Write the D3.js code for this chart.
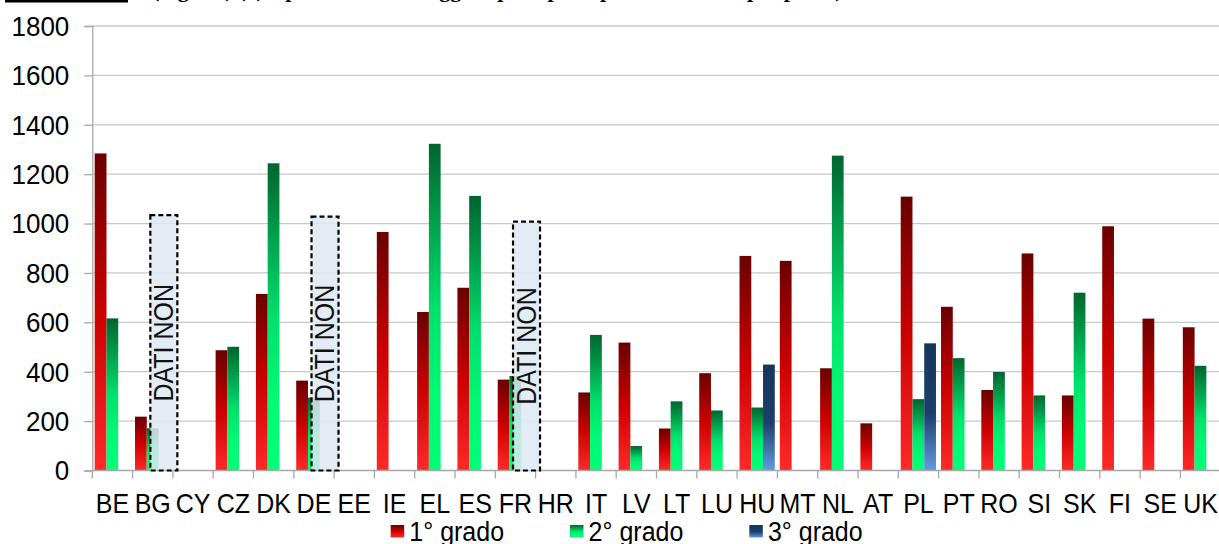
<!DOCTYPE html>
<html>
<head>
<meta charset="utf-8">
<script src="https://cdn.jsdelivr.net/npm/d3@7"></script>
<style>
  html, body { margin: 0; padding: 0; background: #fff; }
  svg { display: block; }
  text { font-family: "Liberation Sans", Arial, sans-serif; }
</style>
</head>
<body>
<svg id="chart" width="1219" height="544"></svg>
<script>
// ---- data ----
const categories = ["BE","BG","CY","CZ","DK","DE","EE","IE","EL","ES","FR","HR","IT","LV","LT","LU","HU","MT","NL","AT","PL","PT","RO","SI","SK","FI","SE","UK"];
const grado1 = [1284,218,null,487,715,364,null,966,642,740,368,null,316,518,170,394,869,849,414,191,1109,663,326,879,304,989,615,580];
const grado2 = [616,171,null,501,1244,295,null,null,1323,1112,383,null,549,99,280,243,255,null,1275,null,289,455,399,304,720,null,null,424];
const grado3 = [null,null,null,null,null,null,null,null,null,null,null,null,null,null,null,null,429,null,null,null,515,null,null,null,null,null,null,null];
const seriesNames = ["1° grado","2° grado","3° grado"];
const yTicks = [0,200,400,600,800,1000,1200,1400,1600,1800];
const noDataCats = ["BG","DE","FR"];
const noDataTop = [1034,1028,1008];
const noDataLabel = "DATI NON";

// ---- setup ----
const svg = d3.select("#chart");
const W = 1219, H = 544;
const x0 = 92.3, x1 = 1220.7, yBase = 470.5, yTop = 26;
const vs = 1.07; // slight vertical stretch of the text, as in the reference

const x = d3.scaleBand().domain(categories).range([x0, x1]).padding(0);
const bw = x.bandwidth();
const xs = d3.scaleBand().domain([0,1,2]).range([bw*0.06, bw*0.935]).padding(0);
const y = d3.scaleLinear().domain([0, 1800]).range([yBase, yTop]);

// gradients
const defs = svg.append("defs");
const grads = [
  {id:"gRed",   stops:[[0,"#6a0000"],[0.5,"#cc0000"],[1,"#ff2a2a"]]},
  {id:"gGreen", stops:[[0,"#00652f"],[0.5,"#00e06c"],[0.75,"#00f874"],[1,"#00ff7a"]]},
  {id:"gBlue",  stops:[[0,"#16355c"],[0.55,"#1c3f6c"],[1,"#639ae2"]]}
];
grads.forEach(g => {
  const lg = defs.append("linearGradient").attr("id", g.id)
    .attr("x1",0).attr("y1",0).attr("x2",0).attr("y2",1);
  g.stops.forEach(s => lg.append("stop").attr("offset", s[0]).attr("stop-color", s[1]));
});
const fills = ["url(#gRed)","url(#gGreen)","url(#gBlue)"];

// header remnant (cut off at top of the picture)
svg.append("rect").attr("x",5).attr("y",0).attr("width",123).attr("height",2.5).attr("fill","#000");
svg.append("text").attr("x",152).attr("y",-3)
  .style("font-family","'Liberation Serif', 'Times New Roman', serif")
  .style("font-weight","bold").style("font-size","22px").attr("fill","#000")
  .text("(seguito) (a) ripartizione dei soggetti per tipo di provvedimento per paese)");

// gridlines
svg.append("g").selectAll("line").data(yTicks.filter(d => d > 0)).join("line")
  .attr("x1", x0).attr("x2", W).attr("y1", d => y(d)).attr("y2", d => y(d))
  .attr("stroke","#c8c8c8").attr("stroke-width",1.3);

// y axis
const yAxis = d3.axisLeft(y).tickValues(yTicks).tickSize(8).tickPadding(15).tickFormat(d3.format("d"));
const gy = svg.append("g").attr("transform",`translate(${x0},0)`).call(yAxis);
gy.select(".domain").attr("stroke","#a8a8a8").attr("stroke-width",1.3);
gy.selectAll(".tick line").attr("stroke","#a8a8a8").attr("stroke-width",1.3);
gy.selectAll(".tick text")
  .style("font-size","26px").style("font-family","'Liberation Sans', Arial, sans-serif").attr("fill","#000")
  .attr("dy", null).attr("dominant-baseline","central")
  .attr("y", 0)
  .attr("transform", `scale(1,${vs})`);

// bars
const allSeries = [grado1, grado2, grado3];
allSeries.forEach((vals, si) => {
  const data = categories.map((c, i) => ({c, v: vals[i]})).filter(d => d.v != null);
  svg.append("g").selectAll("rect").data(data).join("rect")
    .attr("x", d => x(d.c) + xs(si))
    .attr("width", xs.bandwidth())
    .attr("y", d => y(d.v))
    .attr("height", d => y(0) - y(d.v))
    .attr("fill", fills[si]);
});

// x axis
svg.append("line").attr("x1", x0).attr("x2", W).attr("y1", yBase).attr("y2", yBase)
  .attr("stroke","#a8a8a8").attr("stroke-width",1.3);
svg.append("g").selectAll("line").data(categories).join("line")
  .attr("x1", d => x(d)).attr("x2", d => x(d))
  .attr("y1", yBase).attr("y2", yBase + 8)
  .attr("stroke","#a8a8a8").attr("stroke-width",1.3);
svg.append("g").selectAll("text").data(categories).join("text")
  .attr("transform", d => `translate(${x(d) + bw/2},513) scale(1,${vs})`)
  .attr("text-anchor","middle").style("font-size","25px").attr("fill","#000")
  .text(d => d);

// "DATI NON" boxes
const boxW = 27;
noDataCats.forEach((c, i) => {
  const bx = x(c) + bw*0.44;
  const by = y(noDataTop[i]);
  const bh = y(0) - by;
  svg.append("rect").attr("x", bx).attr("y", by).attr("width", boxW).attr("height", bh)
    .attr("fill","rgba(222,231,243,0.85)").attr("stroke","#000")
    .attr("stroke-width",2.2).attr("stroke-dasharray","5,3");
  const cx = bx + boxW/2, cy = by + bh/2;
  svg.append("text").attr("transform",`translate(${cx},${cy}) rotate(-90) scale(1,${vs})`)
    .attr("text-anchor","middle").attr("dominant-baseline","central")
    .style("font-size","25px").attr("fill","#111").text(noDataLabel);
});

// legend
const legX = d3.scaleLinear().domain([0,1]).range([390.7, 570]);
const leg = svg.append("g");
seriesNames.forEach((n, i) => {
  const lx = legX(i);
  leg.append("rect").attr("x", lx).attr("y", 525).attr("width", 13.5).attr("height", 12.5).attr("fill", fills[i]);
  leg.append("text").attr("transform", `translate(${lx + 18.6},541) scale(1,${vs})`)
    .style("font-size","25px").attr("fill","#000").text(n);
});
</script>
</body>
</html>
